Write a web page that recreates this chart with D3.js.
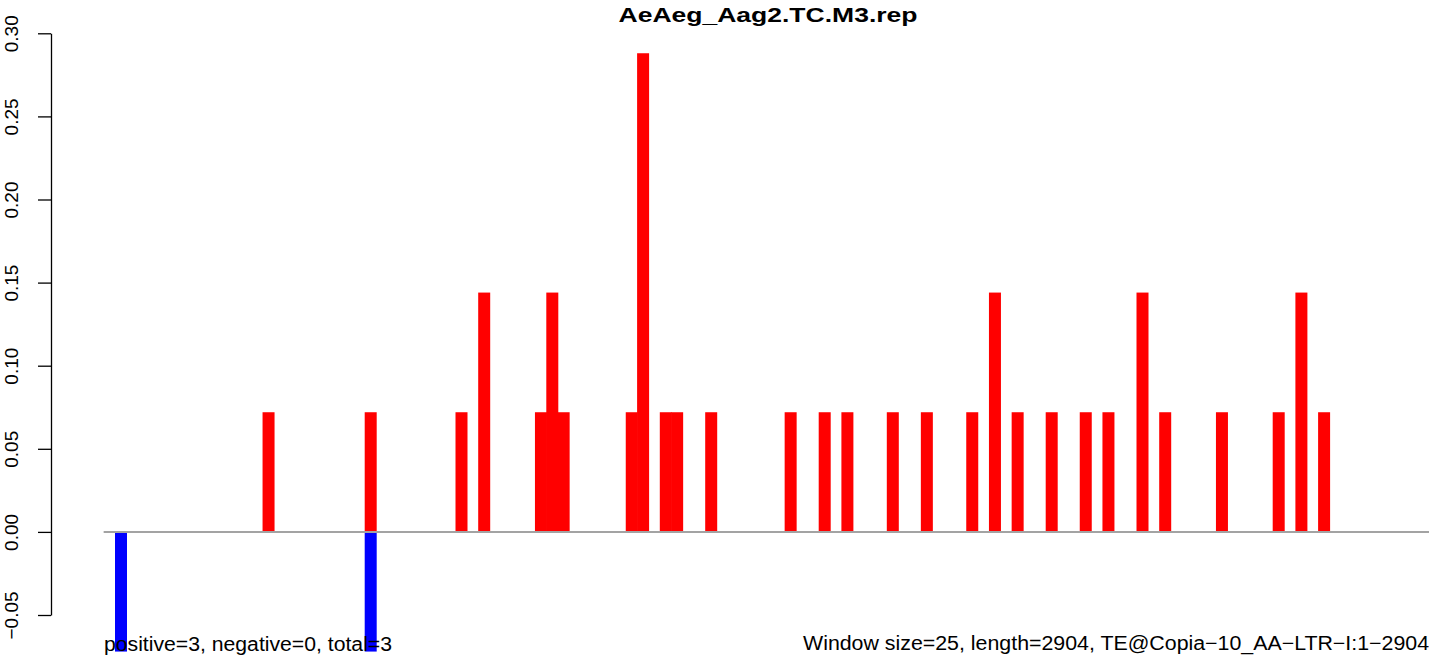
<!DOCTYPE html>
<html>
<meta charset="utf-8">
<style>
  body { margin: 0; background: #fff; }
  text { font-family: "Liberation Sans", Arial, sans-serif; }
</style>
<script src="https://d3js.org/d3.v7.min.js"></script>
<body>

<script>
var svgWidth = 1429, svgHeight = 656;

var title = "AeAeg_Aag2.TC.M3.rep";
var windowSize = 25, seqLength = 2904;
var leftNote = "positive=3, negative=0, total=3";
var rightNote = "Window size=25, length=2904, TE@Copia\u221210_AA\u2212LTR\u2212I:1\u22122904";

// window index (start = index * windowSize) and values
var posWindows = [13, 22, 30, 32, 37, 38, 39, 45, 46, 48, 49, 52, 59, 62, 64, 68, 71, 75, 77,
                  79, 82, 85, 87, 90, 92, 97, 102, 104, 106];
var posValues  = [0.072, 0.072, 0.072, 0.144, 0.072, 0.144, 0.072, 0.072, 0.288, 0.072, 0.072,
                  0.072, 0.072, 0.072, 0.072, 0.072, 0.072, 0.072, 0.144, 0.072, 0.072, 0.072,
                  0.072, 0.144, 0.072, 0.072, 0.072, 0.144, 0.072];
var negWindows = [0, 22];
var negValues  = [-0.072, -0.072];

var yTicks = [-0.05, 0, 0.05, 0.10, 0.15, 0.20, 0.25, 0.30];

var svg = d3.select("body")
  .append("svg")
  .attr("width", svgWidth)
  .attr("height", svgHeight);

var x = d3.scaleLinear()
  .domain([0, seqLength])
  .range([115, 115 + seqLength / windowSize * 11.35]);

var y = d3.scaleLinear()
  .domain([-0.05, 0.30])
  .range([615, 33.3]);

var barW = x(windowSize) - x(0) + 0.65;

var pos = posWindows.map(function(w, i) { return { w: w, v: posValues[i] }; });
var neg = negWindows.map(function(w, i) { return { w: w, v: negValues[i] }; });

svg.selectAll("rect.pos")
  .data(pos)
  .enter()
  .append("rect")
  .attr("class", "pos")
  .attr("x", function(d) { return x(d.w * windowSize); })
  .attr("width", barW)
  .attr("y", function(d) { return y(d.v); })
  .attr("height", function(d) { return y(0) - y(d.v); })
  .attr("fill", "#ff0000");

svg.selectAll("rect.neg")
  .data(neg)
  .enter()
  .append("rect")
  .attr("class", "neg")
  .attr("x", function(d) { return x(d.w * windowSize); })
  .attr("width", barW)
  .attr("y", y(0))
  .attr("height", function(d) { return y(d.v) - y(0); })
  .attr("fill", "#0000ff");

// zero line
svg.append("line")
  .attr("x1", x(-windowSize))
  .attr("x2", svgWidth)
  .attr("y1", y(0))
  .attr("y2", y(0))
  .attr("stroke", "#a3a3a3")
  .attr("stroke-width", 2);

// y axis
var yAxis = svg.append("g")
  .attr("transform", "translate(51,0)")
  .call(d3.axisLeft(y).tickValues(yTicks).tickSize(13).tickSizeOuter(0)
        .tickFormat(d3.format(".2f")));

yAxis.select(".domain").attr("stroke", "#000").attr("stroke-width", 1.3);
yAxis.selectAll(".tick line").attr("stroke", "#000").attr("stroke-width", 1.3);
yAxis.selectAll(".tick text")
  .attr("transform", "rotate(-90)")
  .attr("x", 0)
  .attr("y", -33)
  .attr("dy", 0)
  .attr("text-anchor", "middle")
  .style("font-size", "19px")
  .style("font-family", "'Liberation Sans', Arial, sans-serif")
  .attr("fill", "#000")
  .text(function(d) { return d3.format(".2f")(d).replace("-", "\u2212"); });

// title
svg.append("text")
  .attr("x", 768)
  .attr("y", 22)
  .attr("text-anchor", "middle")
  .attr("textLength", 299)
  .attr("lengthAdjust", "spacingAndGlyphs")
  .style("font-size", "20.5px")
  .style("font-weight", "bold")
  .text(title);

svg.append("text")
  .attr("x", 104)
  .attr("y", 651)
  .attr("textLength", 288)
  .attr("lengthAdjust", "spacingAndGlyphs")
  .style("font-size", "20px")
  .text(leftNote);

svg.append("text")
  .attr("x", 803)
  .attr("y", 650)
  .attr("textLength", 626)
  .attr("lengthAdjust", "spacingAndGlyphs")
  .style("font-size", "20px")
  .text(rightNote);
</script>
</body>
</html>
